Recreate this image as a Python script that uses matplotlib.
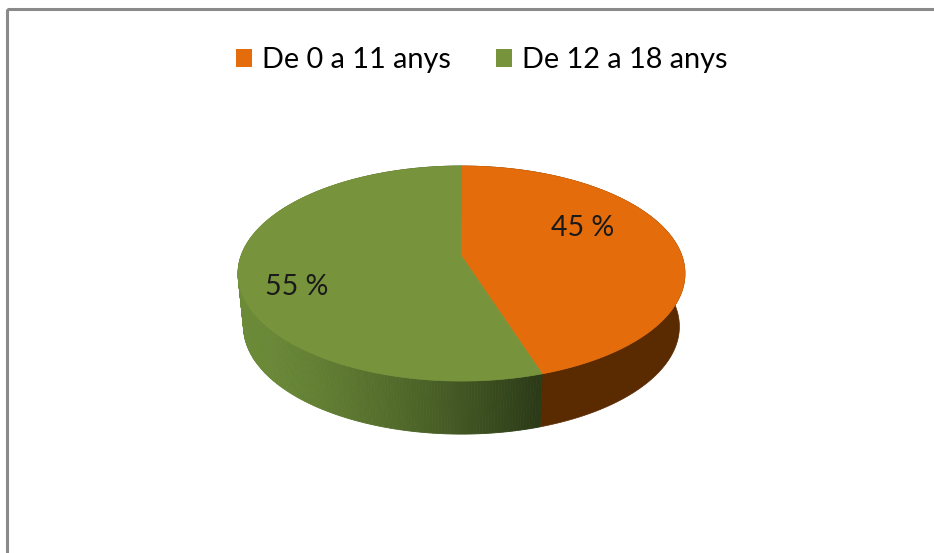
import numpy as np
import matplotlib.pyplot as plt
from matplotlib.patches import Patch, Rectangle, Polygon
from matplotlib.colors import to_rgb

labels = ["De 0 a 11 anys", "De 12 a 18 anys"]
values = [45, 55]
pct_labels = ["45 %", "55 %"]
top_colors = ["#e46c0a", "#77933c"]
side_orange = "#5a2a00"
green_side_left = "#6c8b38"
green_side_right = "#2b3a17"

plt.rcParams['font.family'] = ['Lato', 'DejaVu Sans']

# projected tilted disc (pixel coords)
cx, cy = 461.5, 256
s, t, k = 220.5, 104.7, 0.163
depth, shrink = 53, 0.975


def rim(phi):
    X, Y = np.cos(phi), np.sin(phi)
    den = 1 + k * Y
    return cx + s * X / den, cy - t * Y / den


fig = plt.figure(figsize=(9.34, 5.53), dpi=100)
ax = fig.add_axes([0, 0, 1, 1])
ax.set_xlim(0, 934)
ax.set_ylim(553, 0)
ax.axis('off')

# outer chart border
ax.add_patch(Rectangle((7, 9), 940, 560, fill=False, ec="#8a8a8a", lw=2.2, zorder=5))

total = sum(values)
start = 90.0
bounds = []
for v in values:
    end = start - 360.0 * v / total
    bounds.append((start, end))
    start = end

# sides
for i, (a0, a1) in enumerate(bounds):
    phi = np.radians(np.linspace(a0, a1, 300))
    x, y = rim(phi)
    xb, yb = cx + (x - cx) * shrink, y + depth
    if i == 0:
        pts = np.column_stack([np.r_[x, xb[::-1]], np.r_[y, yb[::-1]]])
        ax.add_patch(Polygon(pts, closed=True, fc=side_orange, ec=side_orange, lw=0.5, zorder=1))
    else:
        c0, c1 = np.array(to_rgb(green_side_left)), np.array(to_rgb(green_side_right))
        xmin, xmax = x.min(), x[0]
        for j in range(len(phi) - 1):
            f = np.clip((x[j] - xmin) / (xmax - xmin), 0, 1) ** 1.4
            col = c0 + (c1 - c0) * f
            quad = [(x[j], y[j]), (x[j + 1], y[j + 1]), (xb[j + 1], yb[j + 1]), (xb[j], yb[j])]
            ax.add_patch(Polygon(quad, closed=True, fc=col, ec=col, lw=0.6, zorder=1))

# top faces
for i, (a0, a1) in enumerate(bounds):
    phi = np.radians(np.linspace(a0, a1, 300))
    x, y = rim(phi)
    pts = np.column_stack([np.r_[cx, x], np.r_[cy, y]])
    ax.add_patch(Polygon(pts, closed=True, fc=top_colors[i], ec=top_colors[i], lw=0.5, zorder=2))

# percentage labels
ax.text(583, 228, pct_labels[0], ha='center', va='center', fontsize=20.5, color='#1a1a1a', zorder=3)
ax.text(297, 287, pct_labels[1], ha='center', va='center', fontsize=20.5, color='#1a1a1a', zorder=3)

handles = [Patch(fc=c, ec='none') for c in top_colors]
ax.legend(handles, labels, loc='center', bbox_to_anchor=(0.516, 0.891), ncol=2, frameon=False,
          fontsize=20.8, handlelength=0.55, handleheight=0.55, handletextpad=0.35,
          columnspacing=1.55, borderpad=0.2)

fig.savefig("out.png", dpi=100)
